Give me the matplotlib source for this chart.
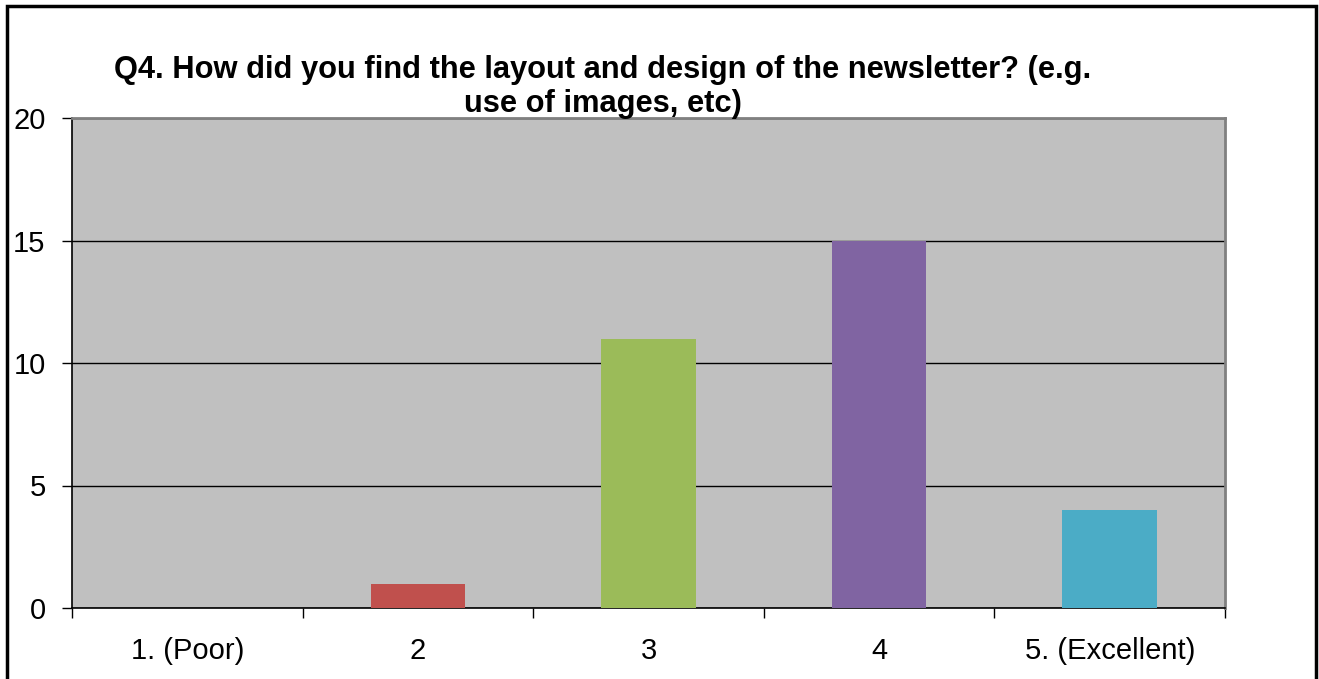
import matplotlib
matplotlib.use('Agg')
from matplotlib import pyplot as plt
from matplotlib.patches import Rectangle

plt.rcParams['font.family'] = ['Liberation Sans', 'DejaVu Sans']

categories = ['1. (Poor)', '2', '3', '4', '5. (Excellent)']
counts = [0, 1, 11, 15, 4]
colors = ['#4F81BD', '#C0504D', '#9BBB59', '#8064A2', '#4BACC6']
title = 'Q4. How did you find the layout and design of the newsletter? (e.g.\nuse of images, etc)'

W, H = 1319, 679
fig = plt.figure(figsize=(W / 100, H / 100), dpi=100)
# plot area in pixels: x 72..1225, y 118..608
ax = fig.add_axes([72 / W, 1 - 608 / H, (1225 - 72) / W, (608 - 118) / H])
ax.set_facecolor('#C0C0C0')

x = range(len(categories))
ax.bar(x, counts, width=0.41, color=colors, zorder=3)

ax.set_xlim(-0.5, len(categories) - 0.5)
ax.set_ylim(0, 20)
ax.set_yticks([0, 5, 10, 15, 20])
ax.yaxis.grid(True, color='black', linewidth=1, zorder=1)
ax.set_axisbelow(True)

# category labels centred, tick marks on the boundaries
ax.set_xticks(list(x))
ax.set_xticklabels(categories, fontsize=21)
ax.tick_params(axis='x', length=0, pad=21)
ax.set_xticks([i - 0.5 for i in range(len(categories) + 1)], minor=True)
ax.tick_params(axis='x', which='minor', length=7, width=1, color='black', direction='out')
ax.tick_params(axis='y', labelsize=21, length=7, width=1, direction='out', pad=12)

for s in ['top', 'right']:
    ax.spines[s].set_color('#808080')
    ax.spines[s].set_linewidth(2)
for s in ['left', 'bottom']:
    ax.spines[s].set_color('black')
    ax.spines[s].set_linewidth(1.2)

fig.text(603 / W, 1 - 55 / H, title, ha='center', va='top', fontsize=22.2,
         fontweight='bold', linespacing=1.16)

# outer chart frame
fig.patches.append(Rectangle((7 / W, -0.05), (1316 - 7) / W, 1.05 - 6 / H,
                             transform=fig.transFigure, fill=False,
                             edgecolor='black', linewidth=2.5))

fig.savefig('out.png', dpi=100)
